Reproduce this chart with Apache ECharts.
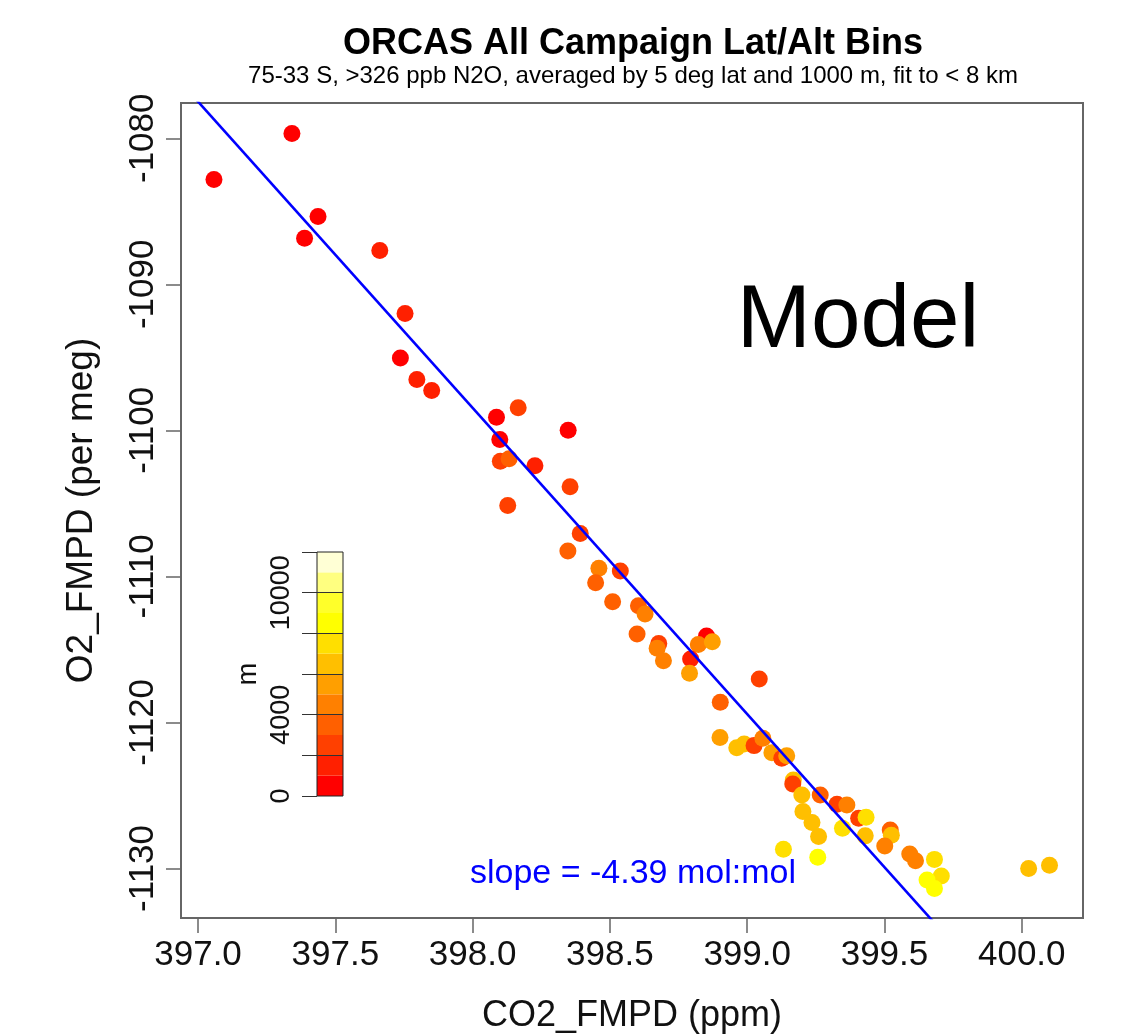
<!DOCTYPE html>
<html><head><meta charset="utf-8">
<script src="https://cdn.jsdelivr.net/npm/echarts@6/dist/echarts.min.js"></script>
<style>html,body{margin:0;padding:0;background:#fff}#c{width:1135px;height:1036px}</style>
</head><body><div id="c"></div>
<script>
// CO2 (ppm), O2 (per meg), altitude (m) for each lat/alt bin
const co2 = [397.058,397.342,397.437,397.388,397.662,397.754,397.737,397.797,397.851,398.087,
  398.166,398.348,398.099,398.101,398.133,398.227,398.355,398.128,398.392,398.347,
  398.460,398.538,398.448,398.510,398.604,398.628,398.599,398.678,398.672,398.695,
  398.852,398.822,398.873,398.794,398.790,399.044,398.902,398.901,398.962,398.989,
  399.025,399.057,399.090,399.126,399.144,399.168,399.166,399.199,399.266,399.203,
  399.327,399.363,399.236,399.260,399.347,399.406,399.433,399.430,399.521,399.525,
  399.501,399.592,399.613,399.132,399.257,399.682,399.707,399.655,399.682,400.025,400.101];
const o2 = [-1082.83,-1079.68,-1085.36,-1086.84,-1087.69,-1092.00,-1095.04,-1096.52,-1097.27,-1099.10,
  -1098.46,-1099.99,-1100.62,-1102.11,-1101.95,-1102.43,-1103.86,-1105.14,-1107.06,-1108.27,
  -1109.45,-1109.64,-1110.44,-1111.74,-1112.01,-1112.58,-1113.95,-1114.59,-1114.93,-1115.78,
  -1114.09,-1114.66,-1114.48,-1115.66,-1116.64,-1117.03,-1118.62,-1121.04,-1121.73,-1121.48,
  -1121.59,-1121.09,-1122.07,-1122.46,-1122.28,-1123.94,-1124.22,-1124.97,-1124.97,-1126.10,
  -1125.61,-1125.65,-1126.86,-1127.82,-1127.25,-1126.57,-1126.50,-1127.77,-1127.37,-1127.73,
  -1128.46,-1129.01,-1129.47,-1128.69,-1129.24,-1129.38,-1130.52,-1130.79,-1131.38,-1130.00,-1129.78];
const altitude = [500,500,500,500,1500,1500,500,1500,1500,500,
  2500,500,500,2500,3500,1500,2500,2500,2500,3500,
  4500,2500,3500,3500,3500,4500,3500,2500,4500,4500,
  500,4500,5500,1500,5500,2500,3500,5500,6500,6500,
  2500,4500,5500,2500,5500,6500,2500,6500,3500,6500,
  2500,4500,6500,6500,7500,2500,7500,6500,3500,6500,
  4500,4500,4500,7500,8500,7500,7500,8500,8500,6500,6500];

// colour scale (m): 12 bins of 1000 m
const binEdges = [0,1000,2000,3000,4000,5000,6000,7000,8000,9000,10000,11000,12000];
const binColors = ['#FF0000','#FF2000','#FF4000','#FF6000','#FF8000','#FF9F00',
  '#FFBF00','#FFDF00','#FFFF00','#FFFF2A','#FFFF80','#FFFFD5'];
const cbTicks = [0,2000,4000,6000,8000,10000,12000];
const cbLabels = [0,4000,10000];

const xTicks = [397.0,397.5,398.0,398.5,399.0,399.5,400.0];
const yTicks = [-1130,-1120,-1110,-1100,-1090,-1080];

// fit line: O2 = fitIntercept + fitSlope * (CO2 - fitX0)
const fitSlope = -20.97, fitX0 = 397.0, fitIntercept = -1077.49;
const fitXs = [396.9, 399.8];

const titleText = 'ORCAS All Campaign Lat/Alt Bins';
const subtitleText = '75-33 S, >326 ppb N2O, averaged by 5 deg lat and 1000 m, fit to < 8 km';
const slopeText = 'slope = -4.39 mol:mol';

const FONT = "'Liberation Sans', Arial, Helvetica, sans-serif";
const chart = echarts.init(document.getElementById('c'), null, {renderer:'canvas'});

const pts = co2.map((x,i)=>[x, o2[i], altitude[i]]);
const fitData = fitXs.map(x=>[x, fitIntercept + fitSlope*(x-fitX0)]);

const cbSeries = binColors.map((c,i)=>({
  type:'bar', xAxisIndex:1, yAxisIndex:1, stack:'cb', barWidth:'100%',
  data:[binEdges[i+1]-binEdges[i]], itemStyle:{color:c}, silent:true,
  animation:false,
  markLine: i===binColors.length-1 ? {
    silent:true, symbol:'none', label:{show:false},
    lineStyle:{color:'#333', width:1, type:'solid'},
    data: cbTicks.slice(1,-1).map(v=>({yAxis:v}))
  } : undefined
}));

const option = {
  animation:false,
  backgroundColor:'#ffffff',
  textStyle:{fontFamily:FONT},
  grid:[
    {left:181, top:103, width:902, height:815, show:true, borderColor:'#666', borderWidth:2,
      backgroundColor:'transparent', containLabel:false, outerBoundsMode:'none'},
    {left:317, top:552, width:26, height:244, show:true, borderColor:'#222', borderWidth:1,
      backgroundColor:'transparent', z:5, containLabel:false, outerBoundsMode:'none'}
  ],
  visualMap:{show:false, type:'piecewise', seriesIndex:0, dimension:2,
    pieces: binColors.map((c,i)=>({gte:binEdges[i], lt:binEdges[i+1], color:c}))},
  xAxis:[
    {type:'value', gridIndex:0, min:396.938, max:400.223,
      axisLine:{show:false}, splitLine:{show:false},
      axisTick:{show:true, customValues:xTicks, length:15, lineStyle:{color:'#666', width:1.5}},
      axisLabel:{customValues:xTicks, margin:20, fontSize:35, color:'#111', fontFamily:FONT,
        formatter:v=>v.toFixed(1)},
      name:'CO2_FMPD (ppm)', nameLocation:'middle', nameGap:80,
      nameTextStyle:{fontSize:36, color:'#111', fontFamily:FONT}},
    {type:'category', gridIndex:1, data:[''], show:false}
  ],
  yAxis:[
    {type:'value', gridIndex:0, min:-1133.394, max:-1077.585,
      axisLine:{show:false}, splitLine:{show:false},
      axisTick:{show:true, customValues:yTicks, length:15, lineStyle:{color:'#666', width:1.5}},
      axisLabel:{customValues:yTicks, margin:20, fontSize:35, color:'#111', rotate:90, fontFamily:FONT,
        formatter:v=>String(v)},
      name:'O2_FMPD (per meg)', nameLocation:'middle', nameGap:81, nameRotate:90,
      nameTextStyle:{fontSize:37, color:'#111', fontFamily:FONT}},
    {type:'value', gridIndex:1, min:0, max:12000, interval:2000, position:'left',
      axisLine:{show:false}, splitLine:{show:false},
      axisTick:{show:true, length:15, lineStyle:{color:'#333', width:1}},
      axisLabel:{margin:22, fontSize:27, color:'#111', rotate:90, fontFamily:FONT,
        formatter:v=>cbLabels.indexOf(v)>=0 ? String(v) : ''},
      name:'m', nameLocation:'middle', nameGap:55, nameRotate:90,
      nameTextStyle:{fontSize:27, color:'#111', fontFamily:FONT}}
  ],
  series:[
    {type:'scatter', xAxisIndex:0, yAxisIndex:0, data:pts, symbolSize:17, z:3,
      itemStyle:{opacity:1}},
    {type:'line', xAxisIndex:0, yAxisIndex:0, data:fitData, showSymbol:false, symbol:'none',
      clip:true, z:4, lineStyle:{color:'#0000ff', width:2.6}},
    ...cbSeries
  ],
  graphic:[
    {type:'text', x:633, y:44, style:{text:titleText, font:'bold 36px '+FONT, fill:'#000', textAlign:'center', textVerticalAlign:'middle'}},
    {type:'text', x:633, y:76, style:{text:subtitleText, font:'24px '+FONT, fill:'#000', textAlign:'center', textVerticalAlign:'middle'}},
    {type:'text', x:858, y:322, style:{text:'Model', font:'89px '+FONT, fill:'#000', textAlign:'center', textVerticalAlign:'middle'}},
    {type:'text', x:470, y:874, style:{text:slopeText, font:'34px '+FONT, fill:'#0000ff', textAlign:'left', textVerticalAlign:'middle'}}
  ]
};
chart.setOption(option);
</script>
</body></html>
